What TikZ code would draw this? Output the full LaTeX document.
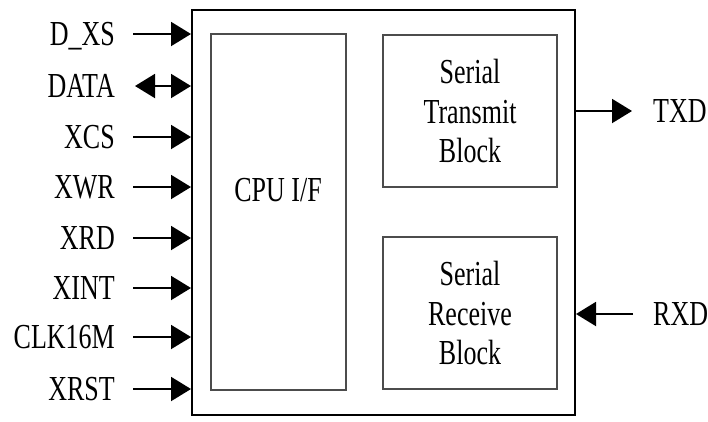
\documentclass[tikz,border=0pt]{standalone}
\usepackage{fontspec}
\setmainfont{Liberation Serif}
\usetikzlibrary{arrows.meta}
\begin{document}
\begin{tikzpicture}[x=1pt,y=-1pt,
  lbl/.style={font=\fontsize{26}{29.6}\selectfont, yscale=1.35, inner sep=0pt, align=center},
  pin/.style={font=\fontsize{26}{29.6}\selectfont, yscale=1.35, inner sep=0pt},
  blk/.style={draw=black!70, line width=1.4pt, inner sep=0pt},
  sig/.style={line width=2pt, -{Triangle[length=20pt,width=24pt]}},
  bus/.style={line width=2pt, {Triangle[length=20pt,width=24pt]}-{Triangle[length=20pt,width=24pt]}},
 ]
\useasboundingbox (0,0) rectangle (708,421);

% chip outline and internal blocks
\node[draw, line width=2pt, inner sep=0pt, minimum width=383pt, minimum height=405pt] (chip) at (383.5,212.5) {};
\node[blk, minimum width=135pt, minimum height=356pt] (cpu) at (278.5,212) {};
\node[blk, minimum width=174pt, minimum height=152pt] (tx) at (470,111) {};
\node[blk, minimum width=174pt, minimum height=152pt] (rx) at (470,313) {};

\node[lbl] (cputxt) at (278,190) {CPU I/F};
\node[lbl] (txtxt) at (tx.center) {Serial\\Transmit\\Block};
\node[lbl] (rxtxt) at (rx.center) {Serial\\Receive\\Block};

% input pins on the left side
\foreach \nm/\txt/\y in {dxs/D\_XS/34, xcs/XCS/137, xwr/XWR/187, xrd/XRD/238,
                         xint/XINT/288, clk/CLK16M/337, xrst/XRST/389}{
  \node[pin, anchor=base east] (l\nm) at (115,\y+11.5) {\txt};
  \coordinate (t\nm) at (133,\y);
  \draw[sig] (t\nm) -- (chip.west |- t\nm);
}
% bidirectional data bus
\node[pin, anchor=base east] (ldata) at (115,86+11.5) {DATA};
\coordinate (tdata) at (135,86);
\draw[bus] (tdata) -- (chip.west |- tdata);

% serial pins on the right side
\coordinate (ttxd) at (632,111);
\draw[sig] (chip.east |- ttxd) -- (ttxd);
\node[pin, anchor=base west] (ltxd) at (653,111+11.5) {TXD};

\coordinate (trxd) at (633,314);
\draw[sig] (trxd) -- (chip.east |- trxd);
\node[pin, anchor=base west] (lrxd) at (653,314+11.5) {RXD};
\end{tikzpicture}
\end{document}
